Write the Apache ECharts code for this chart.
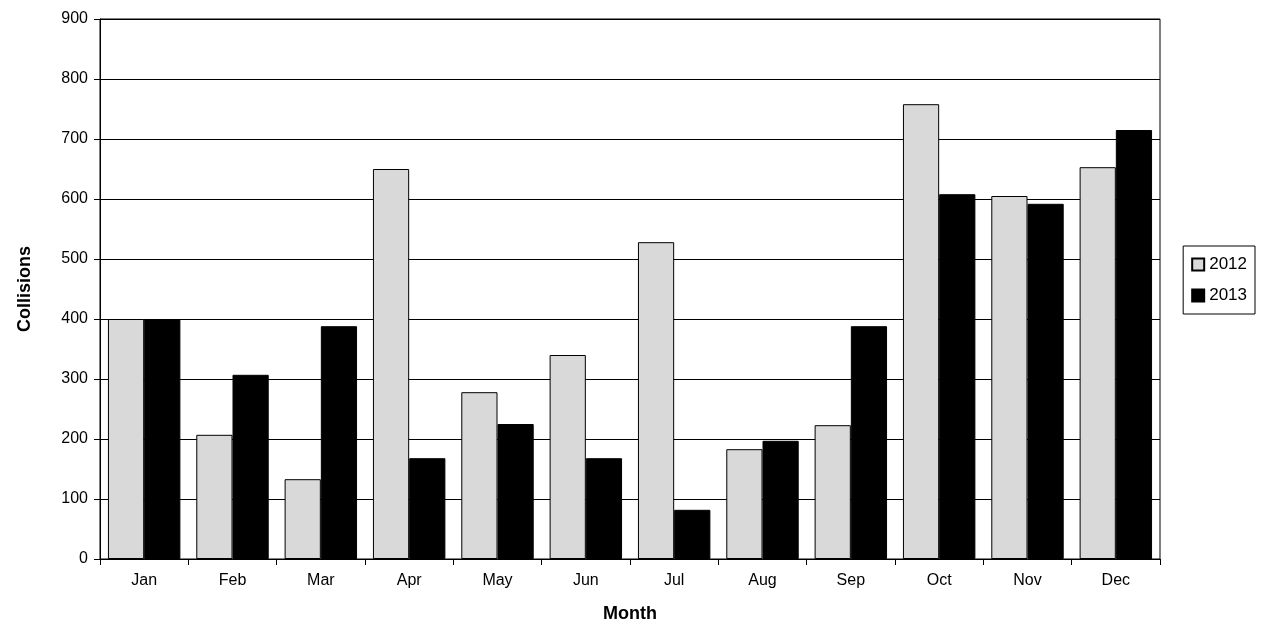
<!DOCTYPE html>
<html>
<head>
<meta charset="utf-8">
<script src="https://cdn.jsdelivr.net/npm/echarts@6/dist/echarts.min.js"></script>
<style>html,body{margin:0;padding:0;background:#fff}#chart{width:1261px;height:639px}</style>
</head>
<body>
<div id="chart"></div>
<script>
// monthly collisions
const months = ['Jan', 'Feb', 'Mar', 'Apr', 'May', 'Jun', 'Jul', 'Aug', 'Sep', 'Oct', 'Nov', 'Dec'];
const values2012 = [400, 207, 133, 650, 278, 340, 528, 183, 223, 758, 605, 653];
const values2013 = [400, 307, 388, 168, 225, 168, 82, 197, 388, 608, 592, 715];
const yTicks = { min: 0, max: 900, interval: 100 };

const font = 'Liberation Sans, Arial, sans-serif';
const chart = echarts.init(document.getElementById('chart'));
chart.setOption({
  animation: false,
  grid: { left: 100, right: 101, top: 19, bottom: 80, show: true, borderColor: '#000', borderWidth: 1 },
  legend: {
    orient: 'vertical',
    right: 6,
    top: 246,
    icon: 'rect',
    itemWidth: 12,
    itemHeight: 12,
    itemGap: 14,
    padding: [10, 8, 10, 8],
    borderColor: '#000',
    borderWidth: 1,
    textStyle: { fontFamily: font, fontSize: 17, color: '#000' },
    data: ['2012', '2013']
  },
  xAxis: {
    type: 'category',
    data: months,
    name: 'Month',
    nameLocation: 'middle',
    nameGap: 46,
    nameTextStyle: { fontFamily: font, fontSize: 18, fontWeight: 'bold', color: '#000' },
    axisLine: { lineStyle: { color: '#000' } },
    axisTick: { show: true, length: 6, lineStyle: { color: '#000' } },
    axisLabel: { fontFamily: font, fontSize: 16, color: '#000', margin: 14 }
  },
  yAxis: {
    type: 'value',
    min: yTicks.min,
    max: yTicks.max,
    interval: yTicks.interval,
    name: 'Collisions',
    nameLocation: 'middle',
    nameGap: 66,
    nameTextStyle: { fontFamily: font, fontSize: 18, fontWeight: 'bold', color: '#000' },
    axisLine: { show: true, lineStyle: { color: '#000' } },
    axisTick: { show: true, length: 6, lineStyle: { color: '#000' } },
    axisLabel: { fontFamily: font, fontSize: 16, color: '#000', margin: 12 },
    splitLine: { lineStyle: { color: '#000' } }
  },
  series: [
    {
      name: '2012', type: 'bar', data: values2012,
      barGap: '0%', barCategoryGap: '18%',
      itemStyle: { color: '#d9d9d9', borderColor: '#000', borderWidth: 1 }
    },
    {
      name: '2013', type: 'bar', data: values2013,
      itemStyle: { color: '#000', borderColor: '#000', borderWidth: 1 }
    }
  ]
});
</script>
</body>
</html>
